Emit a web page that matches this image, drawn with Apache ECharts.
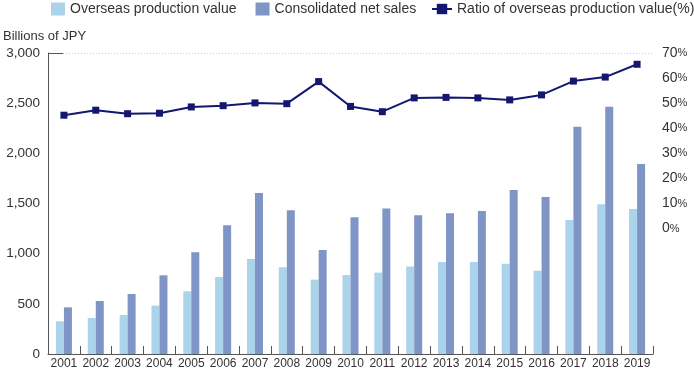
<!DOCTYPE html>
<html><head><meta charset="utf-8">
<script src="https://cdn.jsdelivr.net/npm/echarts@6/dist/echarts.min.js"></script>
<style>html,body{margin:0;padding:0;background:#fff}#c{width:694px;height:373px}</style>
</head><body><div id="c"></div>
<script>
const years = ['2001','2002','2003','2004','2005','2006','2007','2008','2009','2010','2011','2012','2013','2014','2015','2016','2017','2018','2019'];
const overseasProduction = [326,359,389,482,625,767,947,864,741,787,811,871,917,917,900,831,1336,1492,1445];
const consolidatedSales = [465,528,598,784,1013,1282,1605,1432,1037,1362,1449,1382,1402,1425,1635,1565,2266,2465,1894];
const overseasRatio = [45.2,47.2,45.8,46.0,48.5,49.0,50.1,49.8,58.6,48.7,46.6,52.1,52.3,52.1,51.3,53.3,58.8,60.4,65.5];
const seriesNames = ['Overseas production value','Consolidated net sales','Ratio of overseas production value(%)'];

const FONT = 'Liberation Sans, Arial, sans-serif';
const chart = echarts.init(document.getElementById('c'));
chart.setOption({
  animation: false,
  textStyle: {fontFamily: FONT},
  legend: [{
    data: [seriesNames[0], seriesNames[1]],
    left: 46, top: -3, itemWidth: 14, itemHeight: 13, itemGap: 19, icon: 'rect',
    textStyle: {fontSize: 14, color: '#333', fontFamily: FONT}
  },{
    data: [seriesNames[2]],
    left: 426, top: -3, itemWidth: 20, itemHeight: 13, itemGap: 10,
    textStyle: {fontSize: 14, color: '#333', fontFamily: FONT}
  }],
  title: {text: 'Billions of JPY', left: -2, top: 25, textStyle: {fontSize: 13, fontWeight: 'normal', color: '#333', fontFamily: FONT}},
  grid: {left: 48, right: 41, top: 53, bottom: 19, containLabel: false},
  xAxis: {
    type: 'category', data: years, boundaryGap: true,
    axisLine: {lineStyle: {color: '#555', width: 1}},
    axisTick: {show: true, inside: true, length: 8, lineStyle: {color: '#555'}},
    axisLabel: {color: '#333', fontSize: 12, margin: 4, interval: 0, fontFamily: FONT}
  },
  yAxis: [{
    type: 'value', min: 0, max: 3000, interval: 500,
    axisLine: {show: true, lineStyle: {color: '#555'}},
    axisTick: {show: true, inside: true, length: 15, customValues: [3000], lineStyle: {color: '#555'}},
    axisLabel: {color: '#333', fontSize: 13.5, margin: 8, fontFamily: FONT,
      formatter: v => v.toLocaleString('en-US')},
    splitLine: {show: true, lineStyle: {color: '#ccc', type: [1, 2]}}
  },{
    type: 'value', min: -50, max: 70, interval: 10, position: 'right',
    axisLine: {show: false}, axisTick: {show: false}, splitLine: {show: false},
    axisLabel: {margin: 9, fontFamily: FONT,
      formatter: v => v < 0 ? '' : '{n|' + v + '}{p|%}',
      rich: {n: {fontSize: 14, color: '#333', fontFamily: FONT}, p: {fontSize: 11, color: '#333', fontFamily: FONT}}}
  }],
  series: [{
    name: seriesNames[0], type: 'bar', data: overseasProduction, barWidth: 8, barGap: '0%',
    itemStyle: {color: '#abd3ea'}
  },{
    name: seriesNames[1], type: 'bar', data: consolidatedSales, barWidth: 8, barGap: '0%',
    itemStyle: {color: '#7f95c5'}
  },{
    name: seriesNames[2], type: 'line', yAxisIndex: 1, data: overseasRatio,
    symbol: 'rect', symbolSize: 7,
    lineStyle: {color: '#13176f', width: 2},
    itemStyle: {color: '#13176f'}
  }]
});
</script></body></html>
